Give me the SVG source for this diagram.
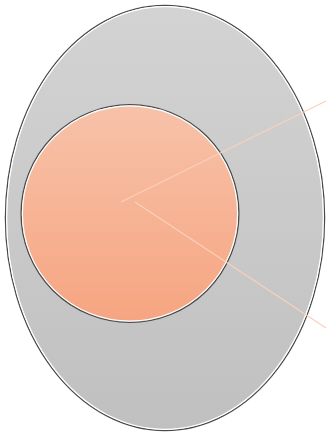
<svg xmlns="http://www.w3.org/2000/svg" width="328" height="432" viewBox="0 0 328 432">
  <defs>
    <linearGradient id="gGray" x1="0" y1="0" x2="0" y2="1">
      <stop offset="0" stop-color="#d3d3d3"/>
      <stop offset="1" stop-color="#c0c0c0"/>
    </linearGradient>
    <linearGradient id="gOrange" x1="0" y1="0" x2="0" y2="1">
      <stop offset="0" stop-color="#f7c2a9"/>
      <stop offset="1" stop-color="#f6a581"/>
    </linearGradient>
  </defs>
  <style>
    .edge { fill: none; stroke: #4a4a4a; stroke-width: 1.3; }
    .inner { stroke: #ffffff; stroke-width: 1.2; }
    .conn { stroke: #fbd0bb; stroke-width: 1.2; fill: none; }
  </style>
  <g id="outer">
    <ellipse class="edge" cx="165" cy="218" rx="159.6" ry="212.6"/>
    <ellipse class="inner" cx="165" cy="218" rx="158.3" ry="211.3" fill="url(#gGray)"/>
  </g>
  <g id="core">
    <circle class="edge" cx="130" cy="213.5" r="108.9"/>
    <circle class="inner" cx="130" cy="213.5" r="107.6" fill="url(#gOrange)"/>
  </g>
  <g id="connectors">
    <line class="conn" x1="121" y1="202" x2="326" y2="101"/>
    <line class="conn" x1="135" y1="202" x2="326" y2="328"/>
  </g>
</svg>
